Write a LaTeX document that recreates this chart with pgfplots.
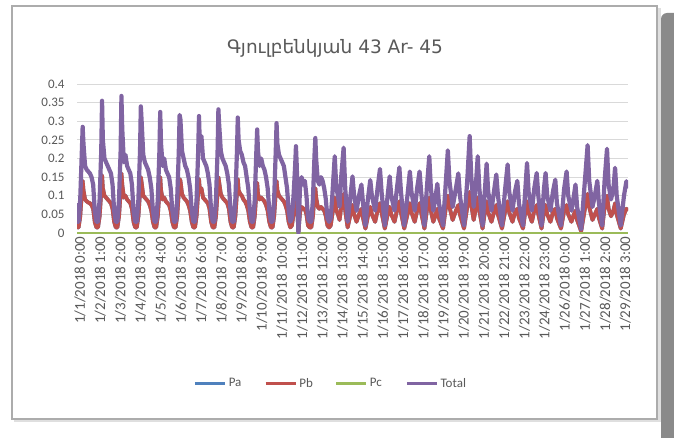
\documentclass[border=0pt]{standalone}
\usepackage{pgfplots}
\pgfplotsset{compat=1.18}
\usepackage{pgfplotstable}
\usepackage{fontspec}
\setmainfont{Carlito}
\newfontfamily\armfont{DejaVu Sans}
\definecolor{txtgray}{HTML}{595959}
\definecolor{gridgray}{HTML}{D9D9D9}
\definecolor{cPa}{HTML}{4F81BD}
\definecolor{cPb}{HTML}{C0504D}
\definecolor{cPc}{HTML}{9BBB59}
\definecolor{cTot}{HTML}{8064A2}
\definecolor{shadowgray}{HTML}{8A8A8A}

\pgfplotstableread{
h pb tot
0 .040 .080
1 .015 .030
2 .015 .030
4 .045 .090
6 .110 .220
7 .140 .285
8 .115 .240
10 .090 .180
12 .085 .170
14 .082 .165
16 .080 .160
18 .075 .150
20 .065 .130
22 .030 .060
24 .015 .030
26 .015 .030
28 .045 .090
30 .110 .220
31 .155 .355
32 .120 .250
34 .100 .200
36 .095 .190
38 .090 .180
40 .085 .170
42 .080 .160
44 .065 .130
46 .030 .060
48 .015 .030
50 .015 .030
52 .045 .090
54 .110 .220
55 .160 .368
56 .130 .280
58 .095 .190
60 .100 .210
62 .090 .180
64 .085 .170
66 .080 .160
68 .065 .130
70 .030 .060
72 .015 .030
74 .015 .030
76 .045 .090
78 .110 .220
79 .150 .340
80 .135 .300
82 .100 .210
84 .095 .190
86 .090 .180
88 .085 .170
90 .075 .150
92 .060 .120
94 .030 .060
96 .015 .030
98 .015 .030
100 .045 .090
102 .110 .220
103 .150 .325
104 .115 .240
106 .090 .180
108 .095 .200
110 .085 .170
112 .080 .160
114 .075 .150
116 .060 .120
118 .030 .060
120 .015 .030
122 .015 .030
124 .045 .090
126 .110 .220
127 .145 .317
128 .140 .305
130 .105 .220
132 .095 .200
134 .090 .180
136 .085 .170
138 .075 .150
140 .060 .120
142 .030 .060
144 .015 .030
146 .015 .030
148 .045 .090
150 .110 .220
151 .145 .314
152 .115 .240
154 .120 .260
156 .095 .200
158 .090 .190
160 .085 .180
162 .080 .160
164 .065 .130
166 .030 .060
168 .015 .030
170 .015 .030
172 .045 .090
174 .110 .220
175 .150 .332
176 .135 .290
178 .105 .220
180 .095 .200
182 .090 .190
184 .085 .180
186 .080 .160
188 .065 .130
190 .030 .060
192 .015 .030
194 .015 .030
196 .045 .090
198 .110 .220
199 .145 .310
200 .115 .250
202 .105 .220
204 .100 .210
206 .090 .190
208 .085 .180
210 .075 .150
212 .060 .120
214 .030 .060
216 .015 .030
218 .015 .030
220 .045 .090
222 .110 .220
223 .135 .278
224 .105 .220
226 .090 .180
228 .095 .200
230 .090 .180
232 .085 .170
234 .075 .150
236 .060 .120
238 .030 .060
240 .015 .030
242 .015 .030
244 .045 .090
246 .110 .220
247 .140 .295
248 .115 .240
250 .100 .210
252 .095 .200
254 .090 .190
256 .085 .180
258 .075 .150
260 .060 .120
262 .030 .060
264 .015 .030
266 .020 .040
268 .050 .100
270 .090 .180
271 .110 .233
272 .085 .180
273 .050 .100
274 .000 .000
276 .055 .120
278 .070 .150
280 .065 .130
282 .065 .140
284 .050 .100
286 .020 .040
288 .015 .030
290 .015 .030
292 .045 .090
294 .105 .210
295 .120 .255
296 .095 .200
298 .070 .140
300 .065 .130
302 .070 .150
304 .065 .140
306 .060 .120
308 .045 .090
310 .020 .040
312 .015 .030
314 .020 .040
316 .050 .100
319 .095 .206
321 .060 .120
323 .050 .100
325 .035 .070
327 .070 .150
330 .105 .229
332 .060 .120
335 .015 .030
338 .045 .090
341 .075 .152
343 .050 .100
346 .030 .060
349 .050 .100
352 .065 .130
354 .040 .080
357 .012 .020
360 .045 .090
363 .070 .142
365 .050 .100
369 .030 .060
372 .060 .120
375 .080 .172
377 .055 .110
381 .012 .020
384 .045 .090
387 .070 .152
389 .050 .100
393 .030 .060
396 .060 .120
399 .085 .176
401 .055 .110
405 .012 .020
409 .050 .100
412 .080 .165
414 .055 .110
418 .030 .060
421 .060 .120
424 .080 .165
426 .055 .110
430 .012 .020
433 .060 .120
436 .095 .206
438 .060 .120
441 .030 .060
444 .050 .100
446 .065 .132
448 .040 .080
453 .012 .020
456 .060 .120
459 .100 .222
461 .070 .140
465 .035 .070
469 .060 .120
472 .075 .160
474 .050 .100
479 .012 .020
483 .070 .140
486 .110 .260
488 .075 .150
491 .035 .070
494 .070 .140
496 .095 .206
498 .060 .120
502 .012 .020
505 .060 .120
507 .085 .186
509 .055 .110
513 .030 .060
516 .055 .110
519 .075 .157
521 .050 .100
526 .012 .020
530 .060 .120
533 .085 .184
535 .055 .110
539 .030 .060
542 .055 .110
545 .065 .140
547 .040 .080
552 .012 .020
555 .060 .120
557 .085 .188
559 .055 .110
563 .030 .060
566 .060 .120
569 .075 .161
571 .050 .100
575 .012 .020
578 .060 .120
580 .075 .161
582 .050 .100
586 .030 .060
589 .055 .110
592 .065 .143
594 .040 .080
599 .012 .020
603 .060 .120
606 .075 .165
608 .050 .100
612 .030 .060
615 .050 .100
617 .060 .130
619 .035 .070
624 .005 .010
629 .070 .150
632 .105 .236
634 .070 .140
638 .035 .070
641 .050 .100
644 .065 .140
646 .040 .080
650 .012 .020
653 .070 .140
656 .100 .226
658 .065 .130
661 .045 .090
664 .060 .120
666 .080 .175
668 .050 .100
673 .012 .020
677 .050 .100
680 .065 .139
682 .060 .120
}\loaddata

\begin{document}
\begin{tikzpicture}[x=1pt,y=1pt]
\useasboundingbox (0,0) rectangle (674,437);
% canvas and frame
\path[fill=white] (0,0) rectangle (674,437);
\fill[shadowgray,rounded corners=6pt] (661,-10) rectangle (690,424);
\fill[gray!25] (14,15) rectangle (661,429);
\draw[gray!65,line width=1.4pt,fill=white] (12,18) rectangle (657,431);
\node[font=\armfont\fontsize{18.5}{22}\selectfont,text=txtgray] at (335,389) {Գյուլբենկյան 43 Ar- 45};
\begin{axis}[
  at={(77pt,204pt)}, anchor=south west,
  width=551pt, height=149pt, scale only axis,
  xmin=0, xmax=682, ymin=0, ymax=0.4,
  axis line style={draw=none},
  major tick length=0pt,
  ymajorgrids, grid style={gridgray,line width=0.9pt},
  ytick={0,0.05,0.1,0.15,0.2,0.25,0.3,0.35,0.4},
  yticklabels={0,0.05,0.1,0.15,0.2,0.25,0.3,0.35,0.4},
  yticklabel style={font=\fontsize{13}{15}\selectfont,text=txtgray,xshift=-9pt},
  xtick={0,25,50,75,100,125,150,175,200,225,250,275,300,325,350,375,400,425,450,475,500,525,550,575,600,625,650,675},
  xticklabels={1/1/2018 0:00,1/2/2018 1:00,1/3/2018 2:00,1/4/2018 3:00,1/5/2018 4:00,1/6/2018 5:00,1/7/2018 6:00,1/8/2018 7:00,1/9/2018 8:00,1/10/2018 9:00,1/11/2018 10:00,1/12/2018 11:00,1/13/2018 12:00,1/14/2018 13:00,1/15/2018 14:00,1/16/2018 15:00,1/17/2018 16:00,1/18/2018 17:00,1/19/2018 18:00,1/20/2018 19:00,1/21/2018 20:00,1/22/2018 21:00,1/23/2018 22:00,1/24/2018 23:00,1/26/2018 0:00,1/27/2018 1:00,1/28/2018 2:00,1/29/2018 3:00},
  xticklabel style={rotate=90,anchor=east,font=\fontsize{15}{17}\selectfont,text=txtgray,yshift=-3pt},
  legend columns=4,
  legend style={at={(0.205,-1.01)},anchor=west,draw=none,fill=none,
    font=\fontsize{13}{15}\selectfont,text=txtgray,
    /tikz/every even column/.append style={column sep=6pt}},
  legend image code/.code={\draw[#1,line width=3.6pt] (0pt,0pt) -- (30pt,0pt);},
  line join=round,
]
\addplot[cPa,line width=3.8pt] table[x=h,y=pb]{\loaddata};
\addlegendentry{\makebox[27pt][l]{Pa}}
\addplot[cPb,line width=3.8pt] table[x=h,y=pb]{\loaddata};
\addlegendentry{\makebox[27pt][l]{Pb}}
\addplot[cPc,line width=3pt] coordinates {(0,0) (682,0)};
\addlegendentry{\makebox[27pt][l]{Pc}}
\addplot[cTot,line width=4.2pt] table[x=h,y=tot]{\loaddata};
\addlegendentry{Total}
\end{axis}
\end{tikzpicture}
\end{document}
